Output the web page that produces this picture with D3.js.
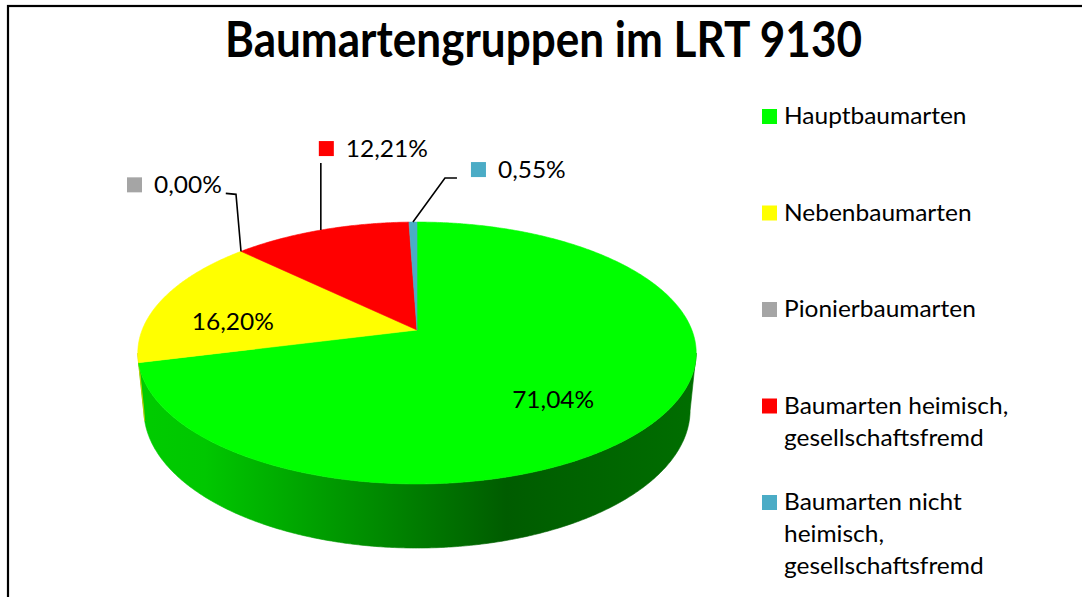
<!DOCTYPE html>
<html><head><meta charset="utf-8">
<script src="https://cdn.jsdelivr.net/npm/d3@7"></script>
<style>body{margin:0;background:#fff} svg{display:block}</style>
</head><body>
<svg id="c" width="1082" height="597"></svg>
<script>
// ---- data ----
const title = "Baumartengruppen im LRT 9130";
const categories = ["Hauptbaumarten", "Nebenbaumarten", "Pionierbaumarten",
  "Baumarten heimisch, gesellschaftsfremd", "Baumarten nicht heimisch, gesellschaftsfremd"];
const legendLines = [["Hauptbaumarten"], ["Nebenbaumarten"], ["Pionierbaumarten"],
  ["Baumarten heimisch,", "gesellschaftsfremd"], ["Baumarten nicht", "heimisch,", "gesellschaftsfremd"]];
const values = [71.04, 16.20, 0.00, 12.21, 0.55];
const valueLabels = ["71,04%", "16,20%", "0,00%", "12,21%", "0,55%"];
const colors = ["#00FF00", "#FFFF00", "#A5A5A5", "#FF0000", "#4BACC6"];

// ---- layout ----
const W = 1082, H = 597;
const FONT = "Lato, 'Open Sans', sans-serif";
const proj = {cx: 417, cy: 330, F: 1388, D: 5.05, phi: 27.5 * Math.PI / 180, h: 0.236};
const labelLayout = [
  {dx: -175, dy: -9, leader: null},
  {dx: 2, dy: 31, leader: null},
  {dx: -114, dy: -58, leader: "elbowLeft"},
  {dx: -2, dy: -73, leader: "up"},
  {dx: 58, dy: -44, leader: "elbowRight"}
];

const svg = d3.select("#c");
const defs = svg.append("defs");

svg.append("rect").attr("x", 8).attr("y", 6).attr("width", 1100).attr("height", 640)
  .attr("fill", "#fff").attr("stroke", "#000").attr("stroke-width", 2.2);

// projection of a point on the disk (angle a clockwise from 12 o'clock, radius r, height z)
const sphi = Math.sin(proj.phi), cphi = Math.cos(proj.phi);
function P(a, r, z) {
  const x = r * Math.sin(a), y = r * Math.cos(a);
  const depth = proj.D + y * cphi - z * sphi;
  return [proj.cx + proj.F * x / depth, proj.cy - proj.F * (y * sphi + z * cphi) / depth];
}

const pie = d3.pie().sort(null).value(d => d)(values);
const line = d3.line();
function arcPts(a0, a1, r, z) {
  const n = Math.max(2, Math.ceil((a1 - a0) / (Math.PI / 360)));
  return d3.range(n + 1).map(i => P(a0 + (a1 - a0) * i / n, r, z));
}

// horizontal shading gradient for the side wall
const cVis = Math.acos(-cphi / proj.D);  // visible front arc: [cVis, 2π - cVis]
const xL = P(2 * Math.PI - cVis, 1, 0)[0], xR = P(cVis, 1, 0)[0];
const shade = [[0, 0.80], [0.12, 0.78], [0.66, 0.36], [1, 0.43]];
colors.forEach((c, i) => {
  const g = defs.append("linearGradient").attr("id", "side" + i)
    .attr("gradientUnits", "userSpaceOnUse")
    .attr("x1", xL).attr("x2", xR).attr("y1", 0).attr("y2", 0);
  const rgb = d3.rgb(c);
  shade.forEach(([o, k]) => g.append("stop").attr("offset", o)
    .attr("stop-color", d3.rgb(rgb.r * k, rgb.g * k, rgb.b * k).formatHex()));
});

// side walls (front visible part only)
pie.forEach((s, i) => {
  const a0 = Math.max(s.startAngle, cVis), a1 = Math.min(s.endAngle, 2 * Math.PI - cVis);
  if (a1 <= a0) return;
  const pts = arcPts(a0, a1, 1, 0).concat(arcPts(a0, a1, 1, -proj.h).reverse());
  svg.append("path").attr("d", line(pts) + "Z").attr("fill", `url(#side${i})`)
    .attr("stroke", `url(#side${i})`).attr("stroke-width", 0.6);
});

// top faces
pie.forEach((s, i) => {
  if (s.endAngle - s.startAngle <= 0) return;
  const pts = [P(0, 0, 0)].concat(arcPts(s.startAngle, s.endAngle, 1, 0));
  svg.append("path").attr("d", line(pts) + "Z").attr("fill", colors[i])
    .attr("stroke", colors[i]).attr("stroke-width", 0.6).attr("stroke-linejoin", "round");
});

// helper: adjust text width to match Calibri-like proportions
function fitText(sel, scale) {
  sel.each(function () {
    const w = this.getComputedTextLength();
    d3.select(this).attr("textLength", w * scale).attr("lengthAdjust", "spacingAndGlyphs");
  });
}

// data labels
const labelScale = 1.02;
pie.forEach((s, i) => {
  const mid = (s.startAngle + s.endAngle) / 2;
  const anchor = P(mid, 1, 0);
  const L = labelLayout[i];
  const kx = anchor[0] + L.dx, by = anchor[1] + L.dy;
  const g = svg.append("g");
  g.append("rect").attr("x", kx).attr("y", by - 16).attr("width", 15).attr("height", 15).attr("fill", colors[i]);
  const t = g.append("text").attr("x", kx + 27).attr("y", by)
    .attr("font-family", FONT).attr("font-size", 24).attr("fill", "#000").text(valueLabels[i]);
  fitText(t, labelScale);
  const tw = +t.attr("textLength");
  let pts = null;
  if (L.leader === "elbowLeft") pts = [anchor, [anchor[0] - 5, by + 1], [kx + 27 + tw + 4, by]];
  else if (L.leader === "up") pts = [anchor, [anchor[0], by + 6]];
  else if (L.leader === "elbowRight") pts = [anchor, [kx - 26, by], [kx - 14, by]];
  if (pts) svg.append("path").attr("d", line(pts)).attr("fill", "none")
    .attr("stroke", "#000").attr("stroke-width", 1.6);
});

// legend
const legendScale = 1.02;
legendLines.forEach((lines, i) => {
  const by = 124 + i * 96.5;
  svg.append("rect").attr("x", 762).attr("y", by - 15).attr("width", 15).attr("height", 15).attr("fill", colors[i]);
  lines.forEach((ln, j) => {
    const t = svg.append("text").attr("x", 784).attr("y", by + j * 32)
      .attr("font-family", FONT).attr("font-size", 24).attr("fill", "#000").text(ln);
    fitText(t, legendScale);
  });
});

// title
const tt = svg.append("text").attr("x", 543.5).attr("y", 57).attr("text-anchor", "middle")
  .attr("font-family", FONT).attr("font-weight", 700).attr("font-size", 50).attr("fill", "#000").text(title);
tt.attr("textLength", 637).attr("lengthAdjust", "spacingAndGlyphs");
</script>
</body></html>
